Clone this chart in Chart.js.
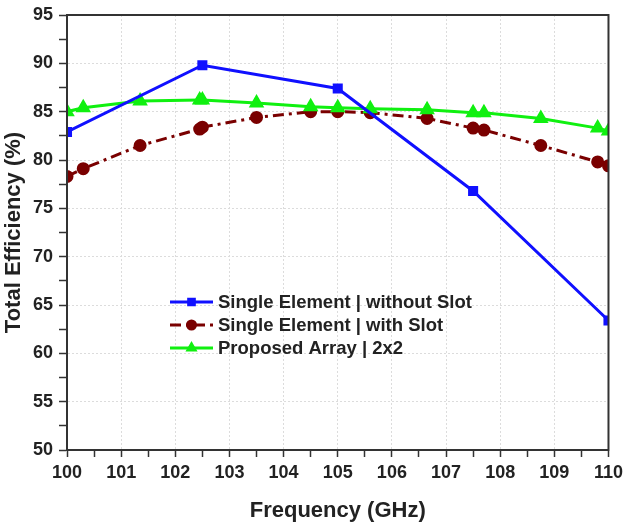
<!DOCTYPE html>
<html>
<head>
<meta charset="utf-8">
<script src="https://cdn.jsdelivr.net/npm/chart.js@4/dist/chart.umd.min.js"></script>
<style>
  html, body { margin:0; padding:0; background:#fff; }
  #wrap { width:628px; height:527px; }
</style>
</head>
<body>
<div id="wrap"><canvas id="effChart"></canvas></div>
<script>
// Frequency points (GHz)
const freqNoSlot = [100, 102.5, 105, 107.5, 110];
const freqShared = [100, 100.3, 101.35, 102.45, 102.5, 103.5, 104.5, 105, 105.6, 106.65, 107.5, 107.7, 108.75, 109.8, 110];

// Total efficiency (%)
const effNoSlot = [82.9, 89.8, 87.4, 76.8, 63.4];
const effWithSlot = [78.3, 79.1, 81.5, 83.2, 83.4, 84.4, 85.0, 85.0, 84.9, 84.3, 83.3, 83.1, 81.5, 79.8, 79.4];
const effArray = [85.0, 85.4, 86.1, 86.2, 86.2, 85.9, 85.5, 85.4, 85.3, 85.2, 84.9, 84.9, 84.3, 83.3, 83.0];

const seriesLabels = ['Single Element | without Slot', 'Single Element | with Slot', 'Proposed Array | 2x2'];

const xMin = 100, xMax = 110, yMin = 50, yMax = 95;

const pts = (xs, ys) => xs.map((x, i) => ({ x: x, y: ys[i] }));
const FONT = "'Liberation Sans', Arial, sans-serif";
const TXT = '#222';

// frame on top/right + legend inside plot
const framePlugin = {
  id: 'frame',
  afterDatasetsDraw(chart) {
    const { ctx, chartArea: a } = chart;
    ctx.save();
    ctx.strokeStyle = '#333';
    ctx.lineWidth = 2;
    ctx.strokeRect(a.left, a.top, a.right - a.left, a.bottom - a.top);

    // legend
    const x0 = 170, x1 = 213, tx = 218;
    const rows = [302, 325, 348];
    ctx.font = 'bold 18.5px ' + FONT;
    ctx.textBaseline = 'middle';
    chart.data.datasets.forEach((ds, i) => {
      const y = rows[i];
      ctx.strokeStyle = ds.borderColor;
      ctx.lineWidth = ds.borderWidth;
      ctx.setLineDash(ds.borderDash || []);
      ctx.beginPath();
      ctx.moveTo(x0, y);
      ctx.lineTo(x1, y);
      ctx.stroke();
      ctx.setLineDash([]);
      ctx.fillStyle = ds.pointBackgroundColor;
      ctx.strokeStyle = ds.pointBorderColor;
      Chart.helpers.drawPoint(ctx, { pointStyle: ds.pointStyle, radius: 4, rotation: 0, borderWidth: 1 }, (x0 + x1) / 2, y);
      ctx.fillStyle = TXT;
      ctx.fillText(ds.label, tx, y + 1);
    });
    ctx.restore();
  }
};

new Chart(document.getElementById('effChart').getContext('2d'), {
  type: 'line',
  data: {
    datasets: [
      { label: seriesLabels[0], data: pts(freqNoSlot, effNoSlot), borderColor: '#1010ff', backgroundColor: '#1010ff',
        pointBackgroundColor: '#1010ff', pointBorderColor: '#1010ff', pointStyle: 'rect', pointRadius: 5,
        borderWidth: 3, order: 0 },
      { label: seriesLabels[1], data: pts(freqShared, effWithSlot), borderColor: '#7a0000', backgroundColor: '#7a0000',
        pointBackgroundColor: '#7a0000', pointBorderColor: '#7a0000', pointStyle: 'circle', pointRadius: 5,
        borderWidth: 3, borderDash: [11, 5, 3, 5], order: 2 },
      { label: seriesLabels[2], data: pts(freqShared, effArray), borderColor: '#10f010', backgroundColor: '#10f010',
        pointBackgroundColor: '#10f010', pointBorderColor: '#10f010', pointStyle: 'triangle', pointRadius: 6,
        borderWidth: 3, order: 1 }
    ]
  },
  options: {
    responsive: true,
    maintainAspectRatio: false,
    animation: false,
    layout: { padding: { top: 14, right: 19, left: 0, bottom: 0 } },
    plugins: { legend: { display: false }, tooltip: { enabled: false } },
    scales: {
      x: {
        type: 'linear', min: xMin, max: xMax,
        afterFit: s => { s.height = 77; },
        ticks: { stepSize: 0.5, padding: 5, color: TXT, font: { family: FONT, size: 18, weight: 'bold' },
          callback: v => (v % 1 === 0 ? v : '') , maxRotation: 0, autoSkip: false },
        grid: { color: c => (c.tick && c.tick.value % 1 === 0 ? '#dcdcdc' : 'transparent'),
          tickColor: '#333', tickLength: 7, lineWidth: 1, tickWidth: 1.5 },
        border: { display: true, color: '#333', width: 2, dash: [2, 2] },
        title: { display: true, text: 'Frequency (GHz)', color: TXT, font: { family: FONT, size: 22, weight: 'bold' },
          padding: { top: 0, bottom: 3 } }
      },
      y: {
        min: yMin, max: yMax,
        afterFit: s => { s.width = 67; },
        ticks: { stepSize: 2.5, padding: 6, color: TXT, font: { family: FONT, size: 18, weight: 'bold', lineHeight: 1 },
          callback: v => (v % 5 === 0 ? v : ''), autoSkip: false },
        grid: { color: c => (c.tick && c.tick.value % 5 === 0 ? '#dcdcdc' : 'transparent'),
          tickColor: '#333', tickLength: 8, lineWidth: 1, tickWidth: 1.5 },
        border: { display: true, color: '#333', width: 2, dash: [2, 2] },
        title: { display: true, text: 'Total Efficiency (%)', color: TXT, font: { family: FONT, size: 22, weight: 'bold' },
          padding: { top: 1, bottom: 0 } }
      }
    }
  },
  plugins: [framePlugin]
});
</script>
</body>
</html>
